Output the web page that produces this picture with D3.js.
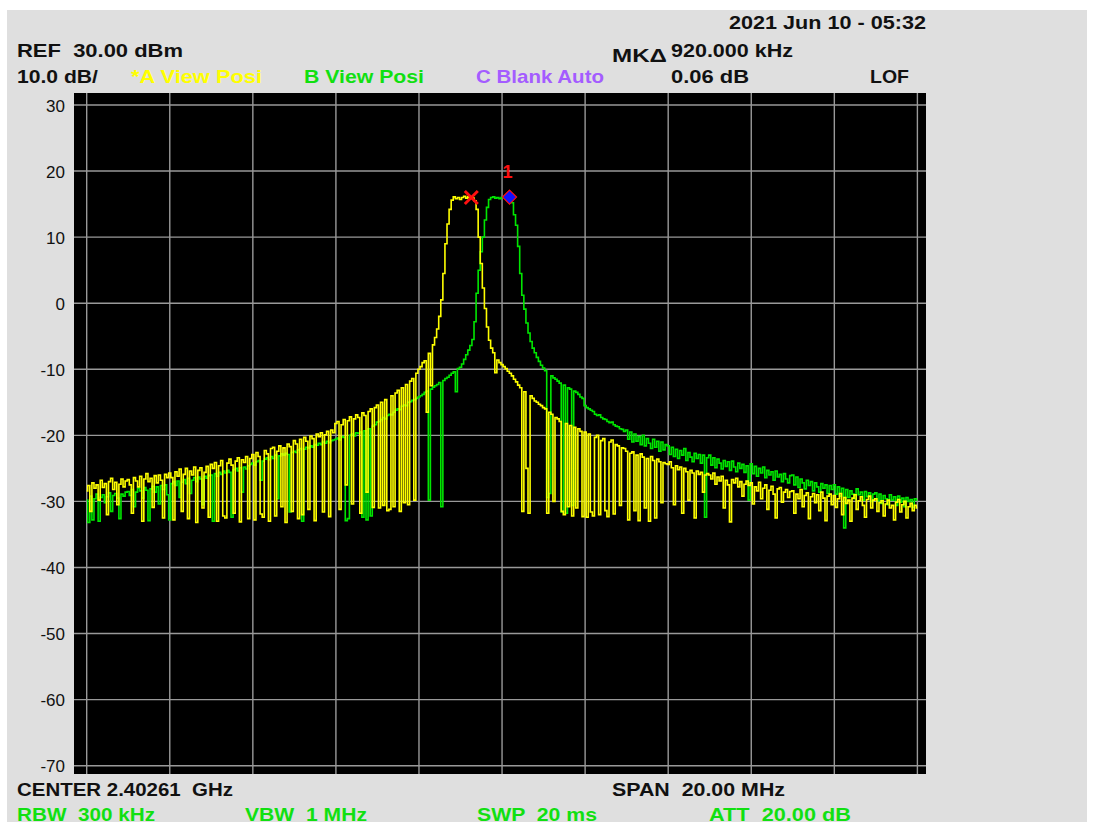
<!DOCTYPE html>
<html>
<head>
<meta charset="utf-8">
<script src="https://cdn.jsdelivr.net/npm/d3@7/dist/d3.min.js"></script>
<style>
  html, body { margin: 0; padding: 0; background: #ffffff; }
  text { font-family: "Liberation Sans", Arial, sans-serif; }
</style>
</head>
<body>
<script>
// ---------------- DATA ----------------
// Sweep: 401 points from -10 MHz to +10 MHz around CENTER 2.40261 GHz
const sweepStartMHz = -10;
const sweepStepMHz = 0.05;

// Trace A (yellow, "*A View Posi"), dBm
const traceA = [
  -28.4,-27.6,-31.5,-27.2,-28.0,-27.5,-29.8,-26.8,-27.9,-27.3,-32.0,-27.0,-26.5,-28.2,-27.1,-30.5,-27.4,-26.6,-27.8,-26.9,
  -26.7,-27.5,-31.8,-26.4,-26.9,-27.8,-26.2,-33.0,-26.6,-25.8,-27.0,-26.5,-30.9,-26.1,-27.2,-26.0,-26.8,-32.5,-25.9,-26.4,
  -25.7,-26.4,-32.8,-25.5,-26.2,-25.1,-31.5,-25.9,-25.0,-32.6,-25.4,-26.0,-24.8,-33.2,-25.3,-24.9,-31.0,-25.6,-24.7,-32.4,
  -24.4,-25.0,-24.1,-33.0,-24.6,-23.8,-32.2,-32.5,-24.2,-23.6,-24.5,-31.8,-23.9,-23.4,-33.1,-23.7,-24.1,-23.2,-32.6,-23.5,
  -22.9,-32.8,-22.6,-23.2,-31.9,-32.4,-22.3,-22.8,-33.0,-22.0,-21.8,-32.2,-22.4,-21.6,-30.8,-21.9,-33.2,-21.3,-21.7,-31.5,
  -20.8,-21.3,-32.6,-20.6,-32.0,-20.3,-20.9,-31.2,-20.1,-20.5,-32.9,-19.8,-20.2,-19.6,-31.6,-19.9,-19.4,-32.3,-19.2,-19.6,
  -18.2,-17.9,-31.2,-18.4,-17.6,-27.5,-17.8,-17.2,-30.4,-17.5,-16.9,-17.3,-31.8,-16.6,-17.0,-28.6,-16.4,-16.0,-30.9,-15.8,
  -15.4,-31.0,-15.0,-30.6,-14.6,-31.4,-31.2,-14.0,-30.8,-13.6,-13.2,-31.5,-12.8,-30.2,-12.3,-30.5,-11.8,-11.4,-29.8,-10.6,
  -10.0,-9.6,-9.0,-8.7,-16.5,-7.6,-12.5,-6.3,-5.2,-3.9,-2.0,0.5,4.5,9.0,12.0,14.2,15.6,16.1,15.8,16.0,
  15.7,16.0,16.2,15.9,16.1,16.0,15.9,15.5,14.2,10.0,6.0,2.3,-0.8,-3.6,-5.6,-6.8,-7.5,-10.5,-8.6,-9.0,
  -9.3,-9.6,-9.9,-10.3,-10.6,-11.0,-11.5,-11.9,-12.4,-12.8,-31.5,-13.4,-25.0,-31.8,-14.0,-14.4,-14.8,-15.0,-15.3,-15.5,
  -15.8,-16.0,-31.8,-16.5,-16.8,-30.0,-17.3,-17.5,-17.9,-31.5,-32.0,-18.2,-30.8,-18.5,-32.2,-18.8,-31.0,-19.0,-19.4,-32.3,
  -19.5,-32.4,-19.8,-31.6,-32.2,-20.3,-20.0,-32.0,-20.8,-20.5,-31.4,-32.3,-21.0,-20.7,-31.9,-21.4,-21.6,-30.6,-21.9,-22.0,
  -22.4,-32.8,-22.7,-22.5,-31.4,-23.0,-32.9,-22.8,-23.3,-31.0,-23.5,-33.0,-23.2,-23.8,-32.5,-23.6,-24.0,-30.2,-24.1,-24.3,
  -24.4,-24.0,-24.9,-30.5,-24.6,-25.2,-24.8,-31.8,-25.0,-25.5,-29.8,-25.3,-25.7,-32.5,-25.4,-25.9,-25.6,-28.6,-26.0,-25.8,
  -26.0,-26.6,-25.7,-27.4,-26.3,-26.9,-26.2,-31.0,-26.8,-27.5,-33.1,-26.7,-27.2,-26.5,-27.8,-27.0,-29.2,-27.4,-26.9,-27.6,
  -27.2,-30.4,-27.8,-28.4,-27.1,-29.6,-28.0,-27.5,-31.2,-28.3,-27.7,-28.9,-32.5,-28.1,-27.9,-30.1,-28.6,-28.2,-29.4,-28.5,
  -28.4,-31.8,-28.9,-29.6,-28.2,-30.8,-29.1,-28.7,-32.6,-29.3,-28.8,-30.2,-29.0,-31.4,-28.6,-29.5,-32.9,-29.2,-28.9,-30.5,
  -29.1,-30.9,-29.6,-28.8,-32.0,-29.4,-30.3,-29.8,-33.0,-29.5,-29.0,-31.2,-29.9,-29.3,-30.6,-32.4,-29.7,-29.2,-31.0,-29.8,
  -29.6,-31.5,-30.2,-29.9,-32.2,-30.4,-29.8,-31.0,-30.6,-32.8,-30.1,-29.7,-31.6,-30.5,-30.0,-32.5,-30.8,-30.3,-31.4,-30.6,
  -31.0
];

// Trace B (green, "B View Posi"), dBm
const traceB = [
  -29.8,-33.2,-29.2,-32.8,-29.6,-28.9,-33.0,-29.4,-29.0,-30.2,-29.3,-28.7,-31.5,-29.1,-28.8,-29.5,-32.6,-28.9,-29.2,-28.6,
  -28.5,-29.1,-28.2,-30.8,-28.6,-28.0,-28.4,-29.5,-27.9,-28.3,-32.9,-28.1,-27.7,-28.6,-27.8,-30.4,-27.6,-28.2,-27.5,-29.0,
  -32.8,-27.3,-27.0,-27.6,-26.9,-29.4,-27.1,-26.7,-27.3,-26.5,-28.8,-26.8,-26.4,-27.0,-26.3,-26.6,-30.5,-26.2,-26.5,-26.1,
  -26.0,-33.0,-25.8,-26.2,-25.6,-25.9,-25.4,-25.7,-25.3,-25.6,-32.4,-25.2,-25.0,-25.4,-24.9,-28.6,-24.8,-25.1,-24.6,-24.4,
  -24.2,-24.5,-24.0,-23.8,-26.8,-23.9,-23.6,-23.4,-23.7,-23.2,-23.5,-23.0,-29.6,-23.1,-22.8,-23.0,-22.7,-22.9,-31.6,-22.6,
  -22.4,-22.6,-22.2,-22.0,-33.0,-22.1,-21.8,-21.9,-21.6,-21.8,-21.4,-21.5,-21.2,-21.4,-21.0,-21.2,-20.9,-21.1,-20.8,-20.7,
  -20.6,-20.4,-20.7,-20.2,-20.3,-32.9,-32.6,-20.0,-19.8,-20.1,-19.6,-19.7,-19.5,-32.4,-19.3,-32.8,-19.0,-32.2,-18.6,-18.4,
  -18.0,-17.9,-17.6,-17.3,-17.5,-17.0,-16.8,-16.9,-16.5,-16.2,-16.0,-16.1,-15.6,-15.4,-15.5,-15.0,-14.9,-14.7,-14.6,-14.4,
  -14.2,-14.0,-13.8,-13.5,-13.3,-29.8,-13.0,-12.7,-12.5,-12.3,-12.0,-30.8,-11.7,-11.4,-11.2,-10.9,-10.6,-10.4,-13.4,-9.9,
  -9.7,-9.2,-8.5,-7.8,-7.1,-6.4,-5.5,-2.8,1.5,5.0,7.8,10.0,12.6,14.5,15.7,16.0,16.1,15.9,16.0,15.8,
  16.0,16.1,16.2,16.0,15.9,15.2,13.4,11.8,8.6,4.5,1.2,-0.9,-3.0,-4.5,-5.8,-6.8,-7.5,-8.2,-8.8,-9.4,
  -9.8,-10.2,-29.4,-28.8,-11.0,-11.3,-11.5,-11.8,-12.1,-31.6,-12.4,-31.8,-12.8,-13.0,-30.6,-13.3,-13.5,-13.8,-14.2,-14.4,
  -15.5,-15.8,-16.0,-16.2,-16.4,-16.8,-17.0,-16.9,-17.3,-17.5,-17.6,-17.9,-18.1,-18.0,-18.4,-18.6,-18.7,-19.0,-19.1,-19.4,
  -19.2,-20.6,-19.5,-21.0,-19.8,-20.9,-20.2,-21.4,-20.0,-21.6,-20.5,-21.2,-22.0,-20.6,-21.8,-20.9,-22.4,-21.0,-22.2,-21.4,
  -21.6,-22.9,-21.8,-23.2,-22.1,-23.5,-22.3,-23.0,-22.0,-23.8,-22.6,-23.3,-24.0,-22.7,-23.5,-22.9,-24.2,-23.0,-32.4,-23.4,
  -23.0,-24.5,-23.4,-24.9,-23.6,-24.2,-25.1,-23.8,-24.7,-24.0,-25.3,-23.9,-24.8,-25.5,-24.2,-25.0,-24.4,-25.6,-24.6,-29.8,
  -24.3,-25.8,-24.7,-26.2,-25.0,-25.7,-24.8,-26.4,-25.3,-26.0,-25.5,-26.8,-25.4,-26.3,-25.9,-27.0,-25.8,-26.6,-27.2,-26.1,
  -26.0,-27.5,-26.3,-27.9,-26.6,-27.2,-28.1,-26.8,-27.6,-27.0,-28.4,-27.2,-27.8,-28.6,-27.3,-28.0,-27.5,-28.8,-27.6,-28.2,
  -27.5,-28.9,-27.8,-29.2,-28.0,-34.0,-28.2,-29.4,-28.4,-28.9,-29.6,-28.1,-29.0,-28.6,-29.8,-28.5,-29.3,-28.7,-30.0,-28.9,
  -28.7,-29.9,-28.9,-30.3,-29.1,-29.6,-30.5,-29.0,-29.8,-29.3,-30.6,-29.2,-30.1,-29.5,-30.8,-29.4,-30.0,-29.7,-30.9,-29.6,
  -29.8
];

// Axis ticks
const yTicks = [30, 20, 10, 0, -10, -20, -30, -40, -50, -60, -70];
const xGridMHz = [-10, -8, -6, -4, -2, 0, 2, 4, 6, 8, 10];

// Markers
const marker1OffsetMHz = -0.74;
const marker1Level = 16.0;
const deltaMHz = 0.92;
const deltaDb = 0.06;

// Annotation texts
const headerTexts = {
  date: "2021 Jun 10 - 05:32",
  ref: "REF  30.00 dBm",
  mkLabel: "MK\u0394",
  mkFreq: "920.000 kHz",
  scale: "10.0 dB/",
  traceA: "*A View Posi",
  traceB: "B View Posi",
  traceC: "C Blank Auto",
  mkLevel: "0.06 dB",
  lof: "LOF",
  center: "CENTER 2.40261  GHz",
  span: "SPAN  20.00 MHz",
  rbw: "RBW  300 kHz",
  vbw: "VBW  1 MHz",
  swp: "SWP  20 ms",
  att: "ATT  20.00 dB"
};

// ---------------- LAYOUT ----------------
const W = 1094, H = 827;
const plot = { left: 74, top: 93, right: 926, bottom: 774 };
const gridX0 = 86.7, gridX1 = 917.4, gridY0 = 105, gridY1 = 765.7;

const colors = {
  panel: "#dfdfdf", plotBg: "#000000", grid: "#999999",
  A: "#ffff00", B: "#00e600", C: "#a45cff", txt: "#111111",
  green: "#11e011", red: "#ff1010", blue: "#1010ff"
};

const svg = d3.select("body").append("svg").attr("width", W).attr("height", H);

svg.append("rect").attr("x", 7).attr("y", 10).attr("width", 1080).attr("height", 812)
  .attr("fill", colors.panel);

svg.append("rect").attr("x", plot.left).attr("y", plot.top)
  .attr("width", plot.right - plot.left).attr("height", plot.bottom - plot.top)
  .attr("fill", colors.plotBg);

const x = d3.scaleLinear().domain([-10, 10]).range([gridX0, gridX1]);
const y = d3.scaleLinear().domain([-70, 30]).range([gridY1, gridY0]);

// grid
const grid = svg.append("g").attr("stroke", colors.grid).attr("stroke-width", 1.4);
grid.selectAll("line.v").data(xGridMHz).join("line").attr("class", "v")
  .attr("x1", d => x(d)).attr("x2", d => x(d))
  .attr("y1", plot.top).attr("y2", plot.bottom);
grid.selectAll("line.h").data(yTicks).join("line").attr("class", "h")
  .attr("y1", d => y(d)).attr("y2", d => y(d))
  .attr("x1", plot.left).attr("x2", plot.right);

// y axis labels
const yAxis = d3.axisLeft(y).tickValues(yTicks).tickSize(0).tickPadding(0)
  .tickFormat(d => String(d));
const ya = svg.append("g").attr("transform", "translate(65,0)").call(yAxis);
ya.select(".domain").remove();
ya.selectAll("text").attr("font-size", 17).attr("fill", colors.txt)
  .attr("font-family", "Liberation Sans, Arial, sans-serif").attr("dy", "0.36em");

// traces
const line = d3.line()
  .x((d, i) => x(sweepStartMHz + i * sweepStepMHz))
  .y(d => y(d))
  .curve(d3.curveStep);

svg.append("path").datum(traceB).attr("d", line)
  .attr("fill", "none").attr("stroke", colors.B).attr("stroke-width", 1.6);
svg.append("path").datum(traceA).attr("d", line)
  .attr("fill", "none").attr("stroke", colors.A).attr("stroke-width", 1.6);

// markers
const m1x = x(marker1OffsetMHz), m1y = y(marker1Level);
const m2x = x(marker1OffsetMHz + deltaMHz), m2y = y(marker1Level + deltaDb);
const xs = 6.5;
svg.append("path")
  .attr("d", `M${m1x - xs},${m1y - xs}L${m1x + xs},${m1y + xs}M${m1x - xs},${m1y + xs}L${m1x + xs},${m1y - xs}`)
  .attr("stroke", colors.red).attr("stroke-width", 3);
const ds = 7;
svg.append("path")
  .attr("d", `M${m2x},${m2y - ds}L${m2x + ds},${m2y}L${m2x},${m2y + ds}L${m2x - ds},${m2y}Z`)
  .attr("fill", colors.blue).attr("stroke", colors.red).attr("stroke-width", 1.2);
svg.append("text").attr("x", m2x - 2).attr("y", m2y - 19).attr("text-anchor", "middle")
  .attr("font-size", 18).attr("font-weight", "bold").attr("fill", colors.red).text("1");

// annotation texts
const labelLayout = [
  { key: "date",    x: 926, y: 29,  w: 197, anchor: "end", color: colors.txt },
  { key: "ref",     x: 17,  y: 57,  w: 166, color: colors.txt },
  { key: "mkLabel", x: 612, y: 62,  w: 55,  color: colors.txt },
  { key: "mkFreq",  x: 671, y: 57,  w: 122, color: colors.txt },
  { key: "scale",   x: 17,  y: 83,  w: 81,  color: colors.txt },
  { key: "traceA",  x: 131, y: 83,  w: 131, color: colors.A },
  { key: "traceB",  x: 304, y: 83,  w: 120, color: colors.green },
  { key: "traceC",  x: 476, y: 83,  w: 128, color: colors.C },
  { key: "mkLevel", x: 671, y: 83,  w: 78,  color: colors.txt },
  { key: "lof",     x: 870, y: 83,  w: 39,  color: colors.txt },
  { key: "center",  x: 17,  y: 796, w: 216, color: colors.txt },
  { key: "span",    x: 612, y: 796, w: 173, color: colors.txt },
  { key: "rbw",     x: 17,  y: 821, w: 138, color: colors.green },
  { key: "vbw",     x: 245, y: 821, w: 122, color: colors.green },
  { key: "swp",     x: 477, y: 821, w: 120, color: colors.green },
  { key: "att",     x: 709, y: 821, w: 142, color: colors.green }
];

svg.append("g").selectAll("text").data(labelLayout).join("text")
  .attr("x", d => d.x).attr("y", d => d.y)
  .attr("text-anchor", d => d.anchor || "start")
  .attr("font-size", 19)
  .attr("font-weight", "bold")
  .attr("fill", d => d.color)
  .attr("textLength", d => d.w)
  .attr("lengthAdjust", "spacingAndGlyphs")
  .style("white-space", "pre")
  .attr("xml:space", "preserve")
  .text(d => headerTexts[d.key]);
</script>
</body>
</html>
